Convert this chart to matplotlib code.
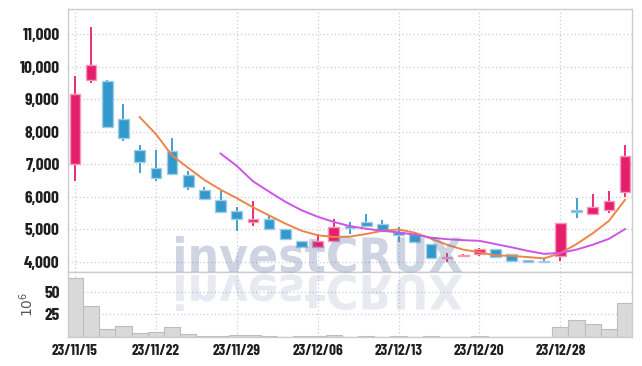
import numpy as np
import matplotlib
matplotlib.use('Agg')
import matplotlib.pyplot as plt
import matplotlib.transforms as mtransforms
from matplotlib.textpath import TextPath
from matplotlib.patches import PathPatch
from matplotlib.font_manager import FontProperties

# trading days (yy/mm/dd)
dates = ['23/11/15', '23/11/16', '23/11/17', '23/11/20', '23/11/21', '23/11/22',
         '23/11/23', '23/11/24', '23/11/27', '23/11/28', '23/11/29', '23/11/30',
         '23/12/01', '23/12/04', '23/12/05', '23/12/06', '23/12/07', '23/12/08',
         '23/12/11', '23/12/12', '23/12/13', '23/12/14', '23/12/15', '23/12/18',
         '23/12/19', '23/12/20', '23/12/21', '23/12/22', '23/12/26', '23/12/27',
         '23/12/28', '24/01/02', '24/01/03', '24/01/04', '24/01/05']

opens = [7000, 9600, 9570, 8380, 7450, 6880, 7420, 6680, 6200, 5910, 5570, 5220,
         5320, 5010, 4650, 4450, 4640, 5100, 5220, 5170, 4920, 4850, 4540, 4110,
         4170, 4260, 4390, 4240, 4050, 4020, 4170, 5600, 5480, 5610, 6160]
highs = [9700, 11230, 9580, 8840, 7600, 7450, 7810, 6800, 6310, 6180, 5690, 5880,
         5450, 5020, 4660, 4860, 5320, 5240, 5470, 5290, 5080, 4930, 4550, 4270,
         4260, 4440, 4400, 4260, 4060, 4130, 5210, 5960, 6080, 6180, 7600]
lows = [6500, 9500, 8130, 7720, 6740, 6500, 6700, 6220, 5930, 5510, 4950, 5110,
        5000, 4690, 4440, 4440, 4630, 4860, 5090, 4940, 4600, 4590, 4120, 4010,
        4140, 4180, 4130, 4030, 3980, 3970, 4030, 5350, 5440, 5500, 6010]
closes = [9170, 10040, 8150, 7820, 7060, 6590, 6710, 6290, 5940, 5550, 5320, 5320,
          5010, 4700, 4450, 4640, 5070, 5040, 5100, 4950, 4820, 4600, 4130, 4150,
          4200, 4400, 4140, 4040, 3990, 3990, 5200, 5530, 5690, 5880, 7260]

# moving averages (None = not drawn yet)
ma5 = [None] * 4 + [8450, 7930, 7270, 6890, 6520, 6220, 5960, 5680, 5430, 5180,
                    4960, 4820, 4770, 4780, 4860, 4960, 5000, 4900, 4720, 4530,
                    4380, 4300, 4200, 4190, 4150, 4110, 4270, 4550, 4880, 5260, 5910]
ma10 = [None] * 9 + [7330, 6950, 6480, 6160, 5850, 5590, 5390, 5230, 5100, 5020,
                     4960, 4910, 4840, 4750, 4700, 4670, 4650, 4550, 4450, 4340,
                     4250, 4280, 4380, 4530, 4710, 5010]

# volume in millions
volume = [65.3, 34.3, 8.9, 12.2, 4.4, 5.5, 10.7, 3.3, 1.1, 0.8, 1.8, 2.6, 0.7,
          0.5, 0.6, 0.6, 1.8, 0.5, 1.2, 0.5, 1.0, 0.4, 1.2, 0.5, 0.4, 0.6, 0.4,
          0.3, 0.3, 0.3, 11.1, 18.5, 14.4, 8.5, 37.3]

up_col = '#e61f6c'
up_edge = '#f49ab9'
dn_col = '#3399cc'
dn_edge = '#9fcde6'
grid_col = '#c5cddc'
lab_font = ['Barlow Condensed', 'DejaVu Sans']

x = np.arange(len(dates))

fig = plt.figure(figsize=(6.42, 3.66), dpi=100)
ax = fig.add_axes([68 / 642, 1 - 272 / 366, 564 / 642, 263 / 366])
axv = fig.add_axes([68 / 642, 1 - 337 / 366, 564 / 642, 65 / 366], sharex=ax)

# candles
for i in x:
    o, h, l, c = opens[i], highs[i], lows[i], closes[i]
    col = up_col if c >= o else dn_col
    edge = up_edge if c >= o else dn_edge
    ax.vlines(i, l, h, color=col, lw=1.3, zorder=2)
    ax.bar(i, max(abs(c - o), 25), bottom=min(o, c), width=0.66, color=col,
           edgecolor=edge, linewidth=1.0, zorder=3)

ma5_arr = np.array([np.nan if v is None else v for v in ma5], dtype=float)
ma10_arr = np.array([np.nan if v is None else v for v in ma10], dtype=float)
ax.plot(x, ma5_arr, color='#ef8448', lw=1.4, zorder=4)
ax.plot(x, ma10_arr, color='#cc55e8', lw=1.4, zorder=4)

ax.set_xlim(-0.43, len(dates) - 1 + 0.43)
ax.set_ylim(3693, 11768)
ax.set_yticks(np.arange(4000, 11001, 1000))
ax.set_yticklabels([f'{v:,}' for v in range(4000, 11001, 1000)])
ax.set_xticks(x[::5])
ax.tick_params(axis='x', labelbottom=False, length=0)
ax.tick_params(axis='y', length=0, pad=6, labelsize=12.5, labelcolor='#1e1e1e')
ax.grid(True, color=grid_col, linestyle=(0, (1, 2)), lw=0.9)

# volume
axv.bar(x, volume, width=1.0, color='#d9d9d9', edgecolor='#bdbdbd', linewidth=0.8,
        zorder=2)
axv.set_ylim(0, 72)
axv.set_yticks([25, 50])
axv.set_xticks(x[::5])
axv.set_xticklabels([dates[i] for i in x[::5]])
axv.tick_params(length=0, labelsize=11, labelcolor='#1e1e1e')
axv.tick_params(axis='y', pad=6, labelsize=12.5)
axv.tick_params(axis='x', pad=5)
axv.grid(True, color=grid_col, linestyle=(0, (1, 2)), lw=0.9)
axv.set_ylabel(r'$10^6$', fontsize=10, color='#555555', labelpad=6)

for a in (ax, axv):
    a.set_axisbelow(True)
    for s in a.spines.values():
        s.set_color('#cccccc')
        s.set_linewidth(1.0)
    for t in a.get_xticklabels() + a.get_yticklabels():
        t.set_family(lab_font)
        t.set_fontweight('bold')

# watermark with reflection
fp = FontProperties(family='DejaVu Sans', weight='bold')
tp = TextPath((0, 0), 'investCRUX', size=1, prop=fp)
bb = tp.get_extents()
sx = 286 / bb.width
sy = 36 / bb.y1
up_tr = mtransforms.Affine2D().translate(-bb.x0, 0).scale(sx, sy).translate(176, 366 - 272)
dn_tr = mtransforms.Affine2D().translate(-bb.x0, 0).scale(sx, -sy).translate(176, 366 - 275)
fig.add_artist(PathPatch(up_tr.transform_path(tp), facecolor='#6e7daa', edgecolor='none',
                         alpha=0.33, transform=mtransforms.IdentityTransform(), zorder=5))
fig.add_artist(PathPatch(dn_tr.transform_path(tp), facecolor='#6e7daa', edgecolor='none',
                         alpha=0.16, transform=mtransforms.IdentityTransform(), zorder=5))

fig.savefig('out.png', dpi=100)
